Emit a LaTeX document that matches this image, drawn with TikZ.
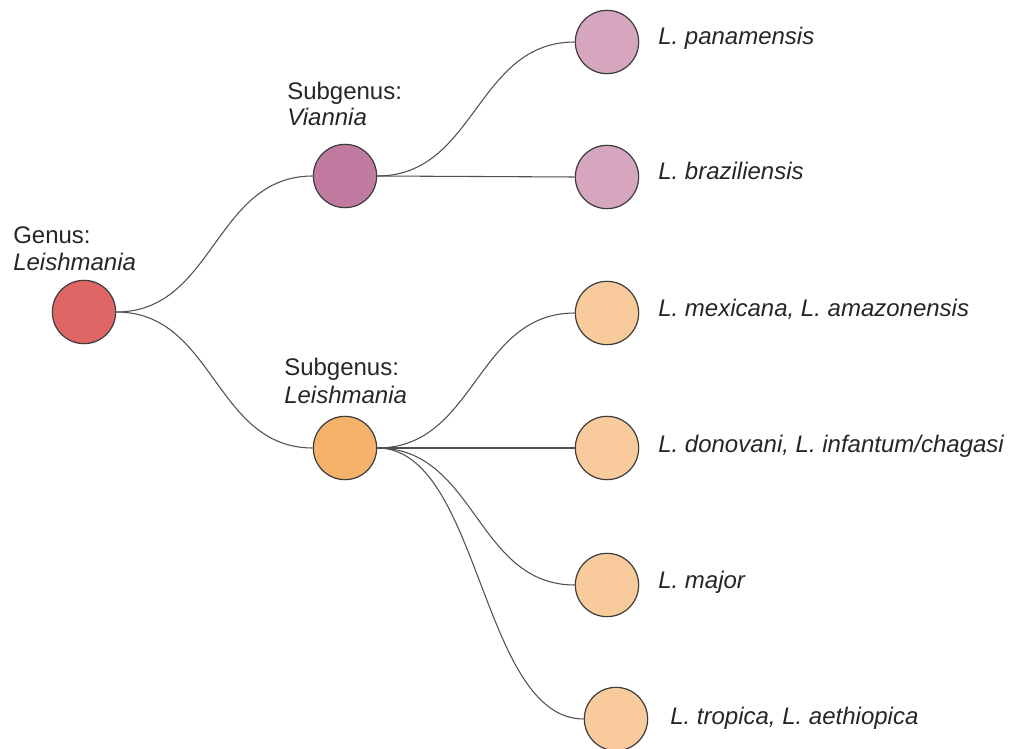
\documentclass[tikz,border=0pt]{standalone}
\usepackage{fontspec}
\setmainfont{Liberation Sans}
\usetikzlibrary{calc}
\definecolor{genusc}{HTML}{E06666}
\definecolor{vianc}{HTML}{C27BA0}
\definecolor{vianleaf}{HTML}{D5A6BD}
\definecolor{leishc}{HTML}{F6B26B}
\definecolor{leishleaf}{HTML}{F9CB9C}
\definecolor{edgec}{HTML}{3C3C3C}
\begin{document}
\begin{tikzpicture}[x=0.75pt,y=-0.75pt,
  dot/.style={circle,draw=edgec,line width=0.9pt,minimum size=47.5pt,inner sep=0pt},
  lab/.style={anchor=base west,inner sep=0pt,font=\fontsize{18}{21.6}\selectfont,text=black!85},
  conn/.style={draw=edgec!90,line width=0.8pt}]
\useasboundingbox (0,0) rectangle (1011,749);
% nodes
\node[dot,fill=genusc] (g) at (84,312) {};
\node[dot,fill=vianc] (v) at (345,176) {};
\node[dot,fill=leishc] (l) at (345,448) {};
\node[dot,fill=vianleaf] (v1) at (607,42) {};
\node[dot,fill=vianleaf] (v2) at (607,177) {};
\node[dot,fill=leishleaf] (l1) at (607,313) {};
\node[dot,fill=leishleaf] (l2) at (607,448) {};
\node[dot,fill=leishleaf] (l3) at (607,585) {};
\node[dot,fill=leishleaf] (l4) at (616,719) {};
% labels
\node[lab] (tg1) at (13,243) {Genus:};
\node[lab] (tg2) at (13,270) {\itshape Leishmania};
\node[lab] (tv1) at (287,100) {Subgenus:};
\node[lab] (tv2) at (287,126) {\itshape Viannia};
\node[lab] (tl1) at (284,375) {Subgenus:};
\node[lab] (tl2) at (284,403) {\itshape Leishmania};
\node[lab] (tv1b) at (658,45) {\itshape L. panamensis};
\node[lab] (tv2b) at (658,180) {\itshape L. braziliensis};
\node[lab] (tl1b) at (658,316) {\itshape L. mexicana, L. amazonensis};
\node[lab] (tl2b) at (658,452) {\itshape L. donovani, L. infantum/chagasi};
\node[lab] (tl3b) at (658,588) {\itshape L. major};
\node[lab] (tl4b) at (670,724) {\itshape L. tropica, L. aethiopica};
% connectors
\foreach \a/\b in {g/v,g/l,v/v1,v/v2,l/l1,l/l2,l/l3,l/l4}{
  \path[conn] let \p1=(\a.east), \p2=(\b.west) in
    (\p1) .. controls ({(\x1+\x2)/2},\y1) and ({(\x1+\x2)/2},\y2) .. (\p2);
}
\end{tikzpicture}
\end{document}
